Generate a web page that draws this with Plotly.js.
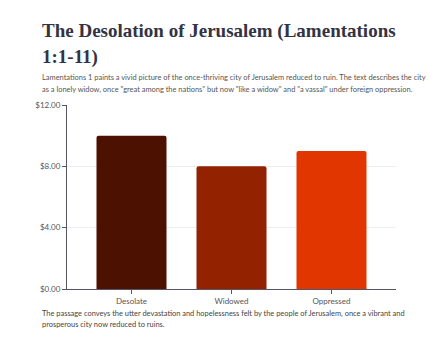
<!DOCTYPE html>
<html>
<head>
<meta charset="utf-8">
<script src="https://cdn.plot.ly/plotly-3.0.1.min.js"></script>
<style>html,body{margin:0;padding:0;background:#fff;}#chart{width:436px;height:347px;}</style>
</head>
<body>
<div id="chart"></div>
<script>
const categories = ["Desolate", "Widowed", "Oppressed"];
const values = [10, 8, 9];
const barColors = ["#4c1100", "#932300", "#e23600"];
const yTickVals = [0, 4, 8, 12];
const yTickText = ["$0.00", "$4.00", "$8.00", "$12.00"];
const titleLines = ["The Desolation of Jerusalem (Lamentations", "1:1-11)"];
const subtitleLines = [
  "Lamentations 1 paints a vivid picture of the once-thriving city of Jerusalem reduced to ruin. The text describes the city",
  "as a lonely widow, once \"great among the nations\" but now \"like a widow\" and \"a vassal\" under foreign oppression."
];
const captionLines = [
  "The passage conveys the utter devastation and hopelessness felt by the people of Jerusalem, once a vibrant and",
  "prosperous city now reduced to ruins."
];

const W = 436, H = 347;
const L = 66.5, R = 40, T = 105, B = 58;
const pw = W - L - R, ph = H - T - B;
const px = x => (x - L) / pw;
const py = y => (H - B - y) / ph;

const trace = {
  type: "bar",
  x: categories,
  y: values,
  marker: {color: barColors, cornerradius: 2},
  width: 0.7,
  hoverinfo: "none"
};

const textFont = "Lato";

function line(text, yc, font) {
  return {text: text, xref: "paper", yref: "paper", x: px(39), y: py(yc), xanchor: "left", yanchor: "middle",
          align: "left", showarrow: false, font: font};
}
const titleFont = {family: "Liberation Serif", size: 19, color: "#333344", weight: 700};
const subFont = {family: textFont, size: 7.45, color: "#555"};
const capFont = {family: textFont, size: 7.45, color: "#444"};

const layout = {
  width: W, height: H,
  margin: {l: L, r: R, t: T, b: B, pad: 0},
  paper_bgcolor: "#fff", plot_bgcolor: "#fff",
  showlegend: false,
  font: {family: textFont, size: 8, color: "#555"},
  xaxis: {
    type: "category",
    range: [-0.645, 2.645],
    showline: true, linecolor: "#555566", linewidth: 1,
    ticks: "outside", ticklen: 4, tickcolor: "#555566",
    showgrid: false, zeroline: false,
    tickfont: {family: textFont, size: 8, color: "#555"},
    fixedrange: true
  },
  yaxis: {
    range: [0, 12],
    tickvals: yTickVals, ticktext: yTickText,
    showline: true, linecolor: "#555566", linewidth: 1,
    ticks: "outside", ticklen: 4, tickcolor: "#555566",
    showgrid: true, gridcolor: "#eeeeee",
    zeroline: false,
    tickfont: {family: textFont, size: 8, color: "#555"},
    fixedrange: true
  },
  annotations: [
    line(titleLines[0], 31, titleFont),
    line(titleLines[1], 57, titleFont),
    line(subtitleLines[0], 78, subFont),
    line(subtitleLines[1], 89, subFont),
    line(captionLines[0], 313, capFont),
    line(captionLines[1], 324, capFont)
  ]
};

Plotly.newPlot("chart", [trace], layout, {displayModeBar: false, staticPlot: true});
</script>
</body>
</html>
